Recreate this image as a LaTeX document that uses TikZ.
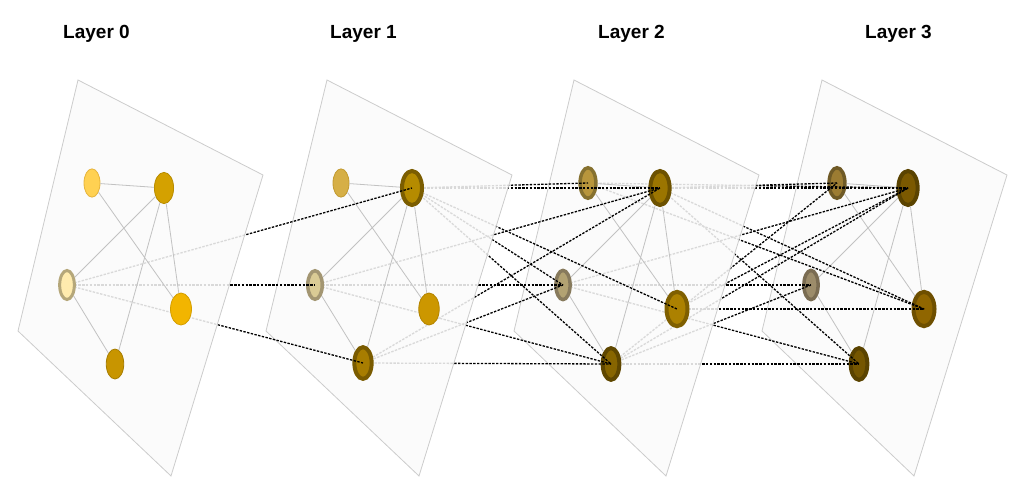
\documentclass[tikz,border=0pt]{standalone}
\usepackage{fontspec}
\newfontfamily\labelfont{Liberation Sans}
\usetikzlibrary{shapes.geometric}

% node colours, layer by layer
\definecolor{fa0}{HTML}{FFD152}\definecolor{la0}{HTML}{E6B43C}
\definecolor{fb0}{HTML}{D4A100}\definecolor{lb0}{HTML}{B88C00}
\definecolor{fc0}{HTML}{FFEBAE}\definecolor{lc0}{HTML}{B5A77A}
\definecolor{fd0}{HTML}{F2B500}\definecolor{ld0}{HTML}{D49E00}
\definecolor{fe0}{HTML}{C89500}\definecolor{le0}{HTML}{A77D00}
\definecolor{fa1}{HTML}{D6AF46}\definecolor{la1}{HTML}{C29A30}
\definecolor{fb1}{HTML}{B58B00}\definecolor{lb1}{HTML}{7B5D00}
\definecolor{fc1}{HTML}{DACB95}\definecolor{lc1}{HTML}{A39672}
\definecolor{fd1}{HTML}{CC9700}\definecolor{ld1}{HTML}{B38400}
\definecolor{fe1}{HTML}{A87D00}\definecolor{le1}{HTML}{7A5B00}
\definecolor{fa2}{HTML}{B8963C}\definecolor{la2}{HTML}{86712F}
\definecolor{fb2}{HTML}{9B7500}\definecolor{lb2}{HTML}{6D5200}
\definecolor{fc2}{HTML}{B2A272}\definecolor{lc2}{HTML}{877A5C}
\definecolor{fd2}{HTML}{AC8100}\definecolor{ld2}{HTML}{7F5F00}
\definecolor{fe2}{HTML}{876500}\definecolor{le2}{HTML}{5F4700}
\definecolor{fa3}{HTML}{9C7C32}\definecolor{la3}{HTML}{6F5A26}
\definecolor{fb3}{HTML}{7B5900}\definecolor{lb3}{HTML}{5A4300}
\definecolor{fc3}{HTML}{9C8C6A}\definecolor{lc3}{HTML}{7A6C52}
\definecolor{fd3}{HTML}{906600}\definecolor{ld3}{HTML}{6E4F00}
\definecolor{fe3}{HTML}{755600}\definecolor{le3}{HTML}{5A4300}

\pgfdeclarelayer{d3}
\pgfdeclarelayer{d2}
\pgfdeclarelayer{d1}
\pgfdeclarelayer{d0}
\pgfsetlayers{d3,d2,d1,d0,main}

\begin{document}
\begin{tikzpicture}[
    x=1pt, y=-1pt,
    title/.style={font=\labelfont\bfseries\fontsize{19}{22}\selectfont, anchor=base, inner sep=0pt},
    plane/.style={draw=black!20, line width=0.8pt, fill=black!2, fill opacity=0.87},
    vtx/.style={ellipse, draw, inner sep=0pt},
    thin ring/.style={line width=0.8pt},
    ring/.style={line width=3.5pt},
    tie/.style={draw=black!24, line width=0.8pt},
    link/.style={draw=black, line width=1.3pt, dash pattern=on 2.4pt off 1.4pt}
]
\useasboundingbox (0,0) rectangle (1017,482);

% --- titles ---
\node (t0) [title] at (96.5,38) {Layer 0};
\node (t1) [title] at (363.5,38) {Layer 1};
\node (t2) [title] at (631.5,38) {Layer 2};
\node (t3) [title] at (898.5,38) {Layer 3};

% --- layer 0 ---
\begin{pgfonlayer}{d0}
\draw [plane] (78,80) -- (263,175) -- (171,476) -- (18,331) -- cycle;
\node (a0) [vtx, thin ring, minimum width=16pt, minimum height=28.3pt, fill=fa0, draw=la0] at (92,183) {};
\node (b0) [vtx, thin ring, minimum width=19.2pt, minimum height=31.2pt, fill=fb0, draw=lb0] at (164,188) {};
\node (c0) [vtx, line width=3pt, minimum width=14.7pt, minimum height=29pt, fill=fc0, draw=lc0] at (67,285) {};
\node (d0) [vtx, thin ring, minimum width=21pt, minimum height=32pt, fill=fd0, draw=ld0] at (181,309) {};
\node (e0) [vtx, thin ring, minimum width=17.5pt, minimum height=30pt, fill=fe0, draw=le0] at (115,364) {};
\draw [tie] (a0) -- (b0) (a0) -- (d0) (b0) -- (c0) (b0) -- (d0) (b0) -- (e0) (c0) -- (e0);
\end{pgfonlayer}

% --- layer 1 ---
\begin{pgfonlayer}{d1}
\draw [plane] (327,80) -- (512,175) -- (419,476) -- (266,331) -- cycle;
\node (a1) [vtx, thin ring, minimum width=16pt, minimum height=28.3pt, fill=fa1, draw=la1] at (341,183) {};
\node (b1) [vtx, line width=4pt, minimum width=20pt, minimum height=34pt, fill=fb1, draw=lb1] at (412,188) {};
\node (c1) [vtx, ring, minimum width=14.5pt, minimum height=28.5pt, fill=fc1, draw=lc1] at (315,285) {};
\node (d1) [vtx, thin ring, minimum width=20.5pt, minimum height=32pt, fill=fd1, draw=ld1] at (429,309) {};
\node (e1) [vtx, line width=4pt, minimum width=17.3pt, minimum height=31.7pt, fill=fe1, draw=le1] at (363,363) {};
\draw [tie] (a1) -- (b1) (a1) -- (d1) (b1) -- (c1) (b1) -- (d1) (b1) -- (e1) (c1) -- (e1);
% links from layer 0
\draw [link] (c0.center) -- (b1.center);
\draw [link] (c0.center) -- (c1.center);
\draw [link] (c0.center) -- (e1.center);
\end{pgfonlayer}

% --- layer 2 ---
\begin{pgfonlayer}{d2}
\draw [plane] (574,80) -- (759,175) -- (666,476) -- (514,331) -- cycle;
\node (a2) [vtx, ring, minimum width=15.8pt, minimum height=30.5pt, fill=fa2, draw=la2] at (588,183) {};
\node (b2) [vtx, line width=4pt, minimum width=19.3pt, minimum height=34pt, fill=fb2, draw=lb2] at (660,188) {};
\node (c2) [vtx, ring, minimum width=14.2pt, minimum height=29.2pt, fill=fc2, draw=lc2] at (563,285) {};
\node (d2) [vtx, line width=4pt, minimum width=21pt, minimum height=34.3pt, fill=fd2, draw=ld2] at (677,309) {};
\node (e2) [vtx, line width=4pt, minimum width=16.7pt, minimum height=31.7pt, fill=fe2, draw=le2] at (611,364) {};
\draw [tie] (a2) -- (b2) (a2) -- (d2) (b2) -- (c2) (b2) -- (d2) (b2) -- (e2) (c2) -- (e2);
% links from layer 1
\draw [link] (b1.center) -- (a2.center);
\draw [link] (b1.center) -- (b2.center);
\draw [link] (b1.center) -- (c2.center);
\draw [link] (b1.center) -- (d2.center);
\draw [link] (b1.center) -- (e2.center);
\draw [link] (c1.center) -- (b2.center);
\draw [link] (c1.center) -- (c2.center);
\draw [link] (c1.center) -- (e2.center);
\draw [link] (e1.center) -- (b2.center);
\draw [link] (e1.center) -- (c2.center);
\draw [link] (e1.center) -- (e2.center);
\end{pgfonlayer}

% --- layer 3 ---
\begin{pgfonlayer}{d3}
\draw [plane] (822,80) -- (1007,175) -- (914,476) -- (762,331) -- cycle;
\node (a3) [vtx, ring, minimum width=15.8pt, minimum height=30.5pt, fill=fa3, draw=la3] at (837,183) {};
\node (b3) [vtx, line width=4pt, minimum width=19.3pt, minimum height=34pt, fill=fb3, draw=lb3] at (908,188) {};
\node (c3) [vtx, ring, minimum width=14.2pt, minimum height=29.2pt, fill=fc3, draw=lc3] at (811,285) {};
\node (d3) [vtx, line width=4pt, minimum width=21pt, minimum height=34.3pt, fill=fd3, draw=ld3] at (924,309) {};
\node (e3) [vtx, line width=4pt, minimum width=16.7pt, minimum height=31.7pt, fill=fe3, draw=le3] at (859,364) {};
\draw [tie] (a3) -- (b3) (a3) -- (d3) (b3) -- (c3) (b3) -- (d3) (b3) -- (e3) (c3) -- (e3);
% links from layer 2
\draw [link] (a2.center) -- (b3.center);
\draw [link] (a2.center) -- (d3.center);
\draw [link] (b2.center) -- (a3.center);
\draw [link] (b2.center) -- (b3.center);
\draw [link] (b2.center) -- (d3.center);
\draw [link] (b2.center) -- (e3.center);
\draw [link] (c2.center) -- (b3.center);
\draw [link] (c2.center) -- (c3.center);
\draw [link] (c2.center) -- (e3.center);
\draw [link] (d2.center) -- (b3.center);
\draw [link] (d2.center) -- (d3.center);
\draw [link] (e2.center) -- (a3.center);
\draw [link] (e2.center) -- (b3.center);
\draw [link] (e2.center) -- (c3.center);
\draw [link] (e2.center) -- (e3.center);
\end{pgfonlayer}

\end{tikzpicture}
\end{document}
